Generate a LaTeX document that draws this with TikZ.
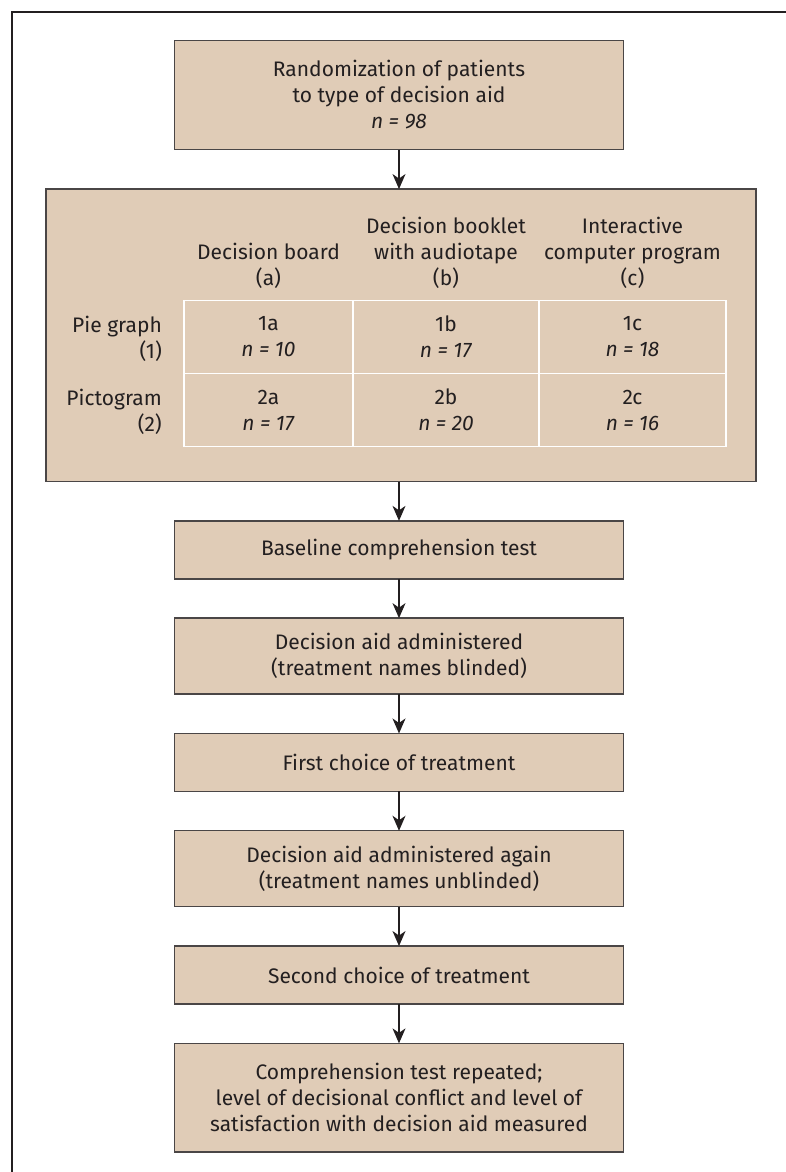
\documentclass[tikz,border=0pt]{standalone}
\usepackage{fontspec}
\setmainfont{Fira Sans}
\usepackage{tikz}
\usetikzlibrary{arrows.meta,positioning}
\usepackage{xcolor}
\definecolor{sand}{HTML}{E0CCB7}
\definecolor{ink}{HTML}{231F20}
\definecolor{rim}{HTML}{4A4646}

\begin{document}
\begin{tikzpicture}[x=1pt, y=1pt,
  every node/.style={text=ink, font=\fontsize{21}{26}\selectfont},
  stage/.style={draw=rim, line width=1.4pt, fill=sand, minimum width=449pt, align=center, inner sep=0pt, outer sep=0pt},
  cell/.style={draw=white, line width=1.5pt, minimum height=73.3pt, align=center, inner sep=0pt},
  flow/.style={-{Stealth[length=15pt, width=13pt, inset=4.5pt]}, draw=ink, line width=1.1pt},
  node distance=39.3pt]
  \useasboundingbox (0,0) rectangle (786,-1172);
  \draw[line width=1.4pt, draw=ink] (12,-1172) -- (12,-12) -- (786,-12);

  \node[stage, minimum height=109.5pt] (rand) at (399,-95) {Randomization of patients\\to type of decision aid\\\textit{n = 98}};
  \node[stage, minimum width=710pt, minimum height=292.5pt, below=of rand, xshift=2pt] (arms) {};
  \node[stage, minimum height=58pt, below=of arms, xshift=-2pt] (base) {Baseline comprehension test};
  \node[stage, minimum height=76pt, below=of base] (blind) {Decision aid administered\\(treatment names blinded)};
  \node[stage, minimum height=58pt, below=of blind] (first) {First choice of treatment};
  \node[stage, minimum height=76pt, below=of first] (again) {Decision aid administered again\\(treatment names unblinded)};
  \node[stage, minimum height=58pt, below=of again] (second) {Second choice of treatment};
  \node[stage, minimum height=108.7pt, below=of second] (final) {Comprehension test repeated;\\level of decisional conflict and level of\\satisfaction with decision aid measured};

  % column heads and row heads
  \node[anchor=south, align=center, inner sep=0pt] (heada) at (268.5,-289) {Decision board\\(a)};
  \node[anchor=south, align=center, inner sep=0pt] (headb) at (446,-289) {Decision booklet\\with audiotape\\(b)};
  \node[anchor=south, align=center, inner sep=0pt] (headc) at (632.5,-289) {Interactive\\computer program\\(c)};
  \node[anchor=east, align=right, inner sep=0pt] (rowpie) at (162,-338.5) {Pie graph\\(1)};
  \node[anchor=east, align=right, inner sep=0pt] (rowpict) at (162,-411.5) {Pictogram\\(2)};

  % the six arms
  \node[cell, minimum width=169pt] (c1a) at (268.5,-337) {1a\\\textit{n = 10}};
  \node[cell, minimum width=186pt] (c1b) at (446,-337) {1b\\\textit{n = 17}};
  \node[cell, minimum width=187pt] (c1c) at (632.5,-337) {1c\\\textit{n = 18}};
  \node[cell, minimum width=169pt] (c2a) at (268.5,-410) {2a\\\textit{n = 17}};
  \node[cell, minimum width=186pt] (c2b) at (446,-410) {2b\\\textit{n = 20}};
  \node[cell, minimum width=187pt] (c2c) at (632.5,-410) {2c\\\textit{n = 16}};

  \draw[flow] (rand) -- (rand |- arms.north);
  \draw[flow] (base |- arms.south) -- (base);
  \draw[flow] (base) -- (blind);
  \draw[flow] (blind) -- (first);
  \draw[flow] (first) -- (again);
  \draw[flow] (again) -- (second);
  \draw[flow] (second) -- (final);
\end{tikzpicture}
\end{document}
